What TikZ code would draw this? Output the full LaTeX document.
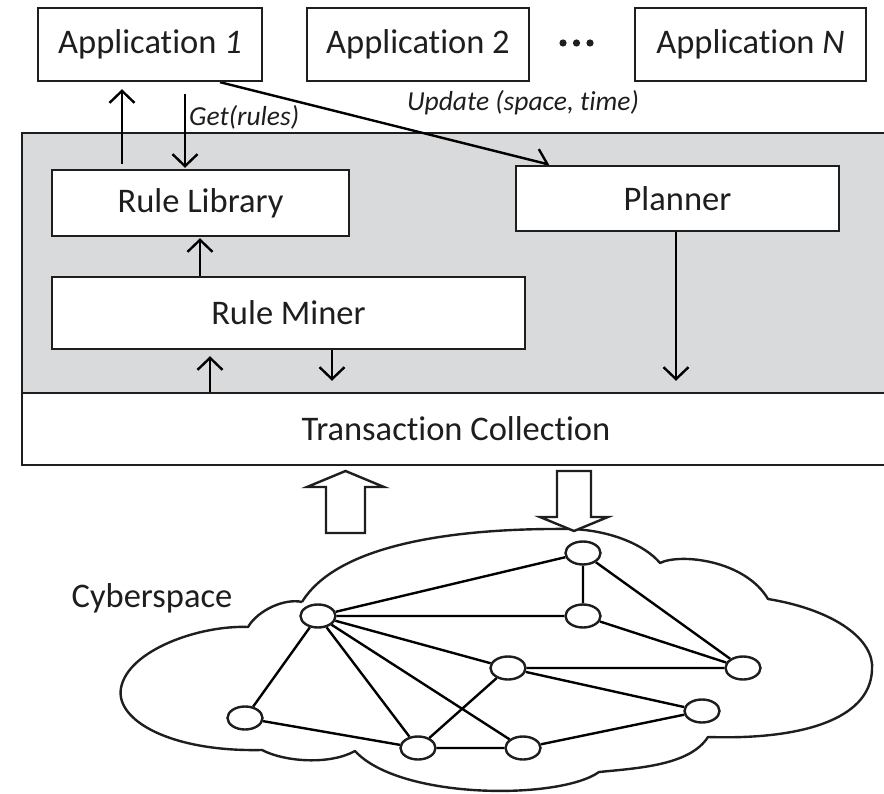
\documentclass[tikz,border=0pt]{standalone}
\usepackage{fontspec}
\setmainfont{Carlito}[Ligatures=NoCommon]
\usetikzlibrary{arrows.meta,shapes.geometric}
\definecolor{panelgray}{RGB}{217,218,220}
\definecolor{ink}{RGB}{30,30,30}
\pgfdeclarelayer{bg}
\pgfdeclarelayer{mid}
\pgfsetlayers{bg,mid,main}
\begin{document}
\begin{tikzpicture}[x=1pt,y=-1pt,line width=2.4pt,draw=ink,text=ink,
  box/.style={draw=ink,fill=white,line width=2.4pt,inner sep=0pt,font=\fontsize{34.5}{40}\selectfont},
  lbl/.style={inner sep=0pt,font=\fontsize{27.5}{32}\selectfont\itshape},
  arr/.style={-{Straight Barb[length=12pt,width=25pt]},line width=2.4pt},
  gnode/.style={draw=ink,ellipse,fill=white,minimum width=35pt,minimum height=23pt,inner sep=0pt,line width=2.4pt},
  gedge/.style={line width=2.4pt},
  hollow/.style={draw=ink,fill=white,line width=2.4pt,line join=miter}]
\useasboundingbox (0,0) rectangle (884,794);
\clip (0,0) rectangle (884,794);

% application boxes
\node[box,minimum width=224pt,minimum height=73pt] (app1) at (150,44.5) {Application \textit{1}};
\node[box,minimum width=222pt,minimum height=73pt] (app2) at (418,44.5) {Application 2};
\node[box,minimum width=231pt,minimum height=73pt] (appn) at (750.5,44.5) {Application \textit{N}};
\fill[ink] (563,43) circle (3.6) (576.5,43) circle (3.6) (590,43) circle (3.6);

% panel and transaction collection
\begin{pgfonlayer}{bg}
\node[box,fill=panelgray,minimum width=868pt,minimum height=260pt] (panel) at (456,263) {};
\node[box,minimum width=868pt,minimum height=72pt] (trans) at (456,429) {Transaction Collection};
\end{pgfonlayer}

% inner boxes
\node[box,minimum width=297pt,minimum height=66pt] (rl) at (200.5,203) {Rule Library};
\node[box,minimum width=473pt,minimum height=72pt] (rm) at (288.5,313) {Rule Miner};
\node[box,minimum width=323pt,minimum height=65pt] (pl) at (677.5,198.5) {Planner};

% connectors
\begin{pgfonlayer}{mid}
\draw[arr,shorten <=5pt,shorten >=7pt] (rl.north -| 122,0) -- (app1.south -| 122,0);
\draw[arr,shorten <=12pt,shorten >=1pt] (app1.south -| 185,0) -- (rl.north -| 185,0);
\draw[arr,shorten >=1pt] (app1.south -| 220,0) -- (pl.north -| 550,0);
\draw[arr,shorten >=1pt] (rm.north -| 200,0) -- (rl.south -| 200,0);
\draw[arr,shorten >=6pt] (trans.north -| 210,0) -- (rm.south -| 210,0);
\draw[arr,shorten >=11pt] (rm.south -| 332,0) -- (trans.north -| 332,0);
\draw[arr,shorten >=11pt] (pl.south -| 676,0) -- (trans.north -| 676,0);
\end{pgfonlayer}
\node[lbl,anchor=west] (getrules) at (189,117) {Get(rules)};
\node[lbl] (update) at (523,103) {Update (space, time)};

% cloud
\draw[line width=2.4pt,line join=round] (302,602)
  .. controls (340,540) and (470,528) .. (570,529)
  .. controls (610,530) and (645,545) .. (660,563)
  .. controls (680,553) and (745,560) .. (768,599)
  .. controls (835,610) and (875,640) .. (872,670)
  .. controls (870,720) and (800,740) .. (708,737)
  .. controls (690,765) and (640,768) .. (599,772)
  .. controls (560,800) and (400,800) .. (355,751)
  .. controls (330,765) and (285,762) .. (262,750)
  .. controls (170,752) and (115,720) .. (121,688)
  .. controls (128,650) and (200,625) .. (248,627)
  .. controls (258,610) and (285,598) .. (302,602);
\node[inner sep=0pt,font=\fontsize{34.5}{40}\selectfont] (cyber) at (152,598) {Cyberspace};

% hollow arrows between transaction collection and cyberspace
\draw[hollow] (326,533) -- (326,487) -- (307,487) -- (345.5,471) -- (384,487) -- (365,487) -- (365,533) -- cycle;
\draw[hollow] (557,471) -- (591,471) -- (591,517) -- (608,517) -- (574,531) -- (540,517) -- (557,517) -- cycle;

% network
\node[gnode] (n1) at (583,553) {};
\node[gnode] (n2) at (318,616) {};
\node[gnode] (n3) at (583,616) {};
\node[gnode] (n4) at (508,668) {};
\node[gnode] (n5) at (743,668) {};
\node[gnode] (n6) at (702,711) {};
\node[gnode] (n7) at (245,718) {};
\node[gnode] (n8) at (418,748) {};
\node[gnode] (n9) at (523,748) {};
\begin{pgfonlayer}{mid}
\draw[gedge] (n2) -- (n1) (n2) -- (n3) (n1) -- (n3) (n1) -- (n5) (n3) -- (n5)
  (n2) -- (n4) (n4) -- (n5) (n4) -- (n6) (n2) -- (n7) (n2) -- (n8) (n2) -- (n9)
  (n7) -- (n8) (n8) -- (n4) (n8) -- (n9) (n9) -- (n6);
\end{pgfonlayer}
\end{tikzpicture}
\end{document}
